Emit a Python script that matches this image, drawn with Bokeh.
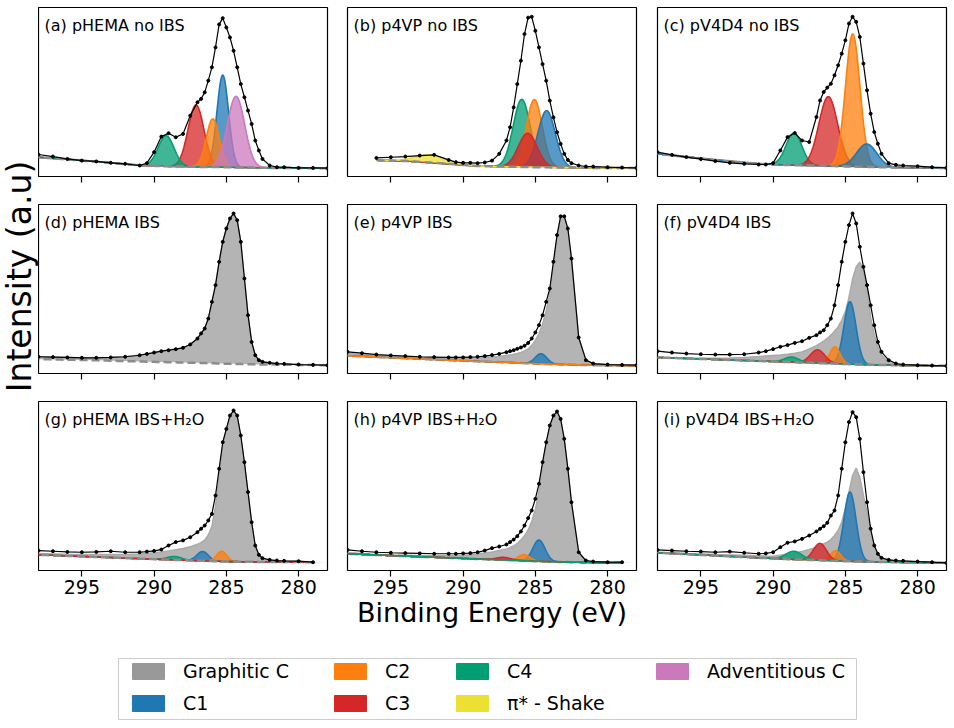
import numpy as np
from bokeh.plotting import figure
from bokeh.models import Range1d, FixedTicker, Label, Legend, LegendItem
from bokeh.layouts import column, row
from bokeh.embed import file_html
from bokeh.resources import INLINE

FONT = "DejaVu Sans"

# ---------------- data ----------------
# binding-energy grid (eV) on which the measured spectra were read
E_GRID = [298, 297, 296, 295, 294, 293, 292, 291, 290.5, 290, 289.5, 289, 288.5, 288,
          287.5, 287, 286.75, 286.5, 286.25, 286, 285.75, 285.5, 285.25, 285, 284.75,
          284.5, 284.25, 284, 283.75, 283.5, 283.25, 283, 282.75, 282.5, 282, 281.5,
          281, 280, 279, 278]
# knots of the (Shirley-like) background
BG_KNOTS = [298, 294, 291, 289, 287, 285, 283, 281, 278]

DATA_A = [.130, .118, .104, .094, .089, .081, .075, .065, .079, .144, .236, .256, .232, .252,
          .360, .439, .459, .498, .567, .646, .764, .900, .937, .882, .823, .744, .646, .547,
          .469, .390, .311, .213, .154, .104, .065, .055, .055, .051, .051, .049]
DATA_B = [None, None, .110, .114, .118, .124, .128, .098, .085, .081, .081, .079, .083, .094,
          .134, .213, .291, .409, .547, .685, .843, .940, .945, .862, .764, .665, .567, .449,
          .350, .262, .193, .134, .098, .079, .065, .059, .059, .055, .053, .051]
DATA_C = [.144, .128, .115, .103, .091, .081, .075, .071, .071, .079, .154, .233, .257, .213,
          .204, .352, .450, .500, .526, .549, .599, .658, .727, .806, .905, .945, .915, .826,
          .668, .510, .372, .263, .194, .134, .079, .069, .065, .061, .055, .051]
DATA_D = [.099, .097, .095, .093, .093, .095, .099, .108, .116, .124, .132, .138, .144, .152,
          .172, .207, .237, .266, .325, .424, .523, .661, .779, .858, .917, .947, .907, .779,
          .562, .345, .187, .108, .079, .069, .063, .059, .057, .053, .051, .049]
DATA_E = [.128, .120, .112, .107, .103, .099, .097, .095, .095, .095, .097, .099, .103, .109,
          .116, .126, .132, .138, .146, .154, .164, .181, .207, .243, .286, .345, .424, .503,
          .661, .819, .930, .930, .858, .680, .213, .079, .059, .053, .051, .049]
DATA_F = [.132, .124, .118, .114, .112, .112, .114, .124, .132, .144, .158, .168, .181, .191,
          .211, .227, .243, .256, .286, .325, .404, .523, .661, .779, .878, .947, .888, .750,
          .631, .523, .404, .286, .187, .128, .079, .059, .053, .049, .047, .045]
DATA_G = [.118, .114, .110, .108, .110, .114, .108, .108, .112, .116, .124, .148, .168, .178,
          .197, .227, .247, .266, .296, .335, .444, .602, .759, .838, .917, .947, .917, .799,
          .641, .464, .286, .148, .093, .073, .063, .059, .057, .055, .049, None]
DATA_H = [.122, .114, .108, .105, .103, .101, .099, .099, .099, .101, .103, .108, .118, .132,
          .142, .154, .168, .183, .203, .231, .266, .310, .355, .424, .513, .641, .759, .858,
          .917, .941, .897, .779, .602, .404, .108, .059, .053, .049, .049, None]
DATA_I = [.122, .118, .114, .112, .108, .112, .105, .099, .101, .108, .138, .164, .172, .187,
          .207, .231, .247, .262, .282, .325, .355, .444, .602, .759, .878, .937, .907, .779,
          .582, .404, .247, .148, .099, .075, .063, .059, .057, .053, .049, .045]

# graphitic-C envelope (upper edge of the grey area)
GRAPHITIC_D = DATA_D
GRAPHITIC_E = [.118, .112, .106, .101, .097, .094, .092, .090, .090, .090, .091, .092, .094, .097,
               .101, .106, .110, .114, .119, .125, .133, .145, .165, .195, .235, .290, .370, .470,
               .640, .810, .925, .930, .850, .680, .210, .079, .059, .053, .051, .049]
GRAPHITIC_F = [.095, .093, .091, .090, .090, .092, .095, .100, .103, .106, .109, .114, .120, .128,
               .145, .165, .178, .192, .208, .227, .250, .276, .315, .365, .450, .560, .630, .660,
               .610, .500, .330, .230, .160, .110, .065, .055, .052, .049, .047, .045]
GRAPHITIC_G = [.100, .098, .096, .095, .094, .094, .095, .098, .100, .105, .110, .116, .123, .130,
               .140, .155, .165, .180, .210, .260, .380, .560, .740, .830, .910, .940, .910, .790,
               .630, .455, .280, .140, .088, .070, .060, .057, .055, .053, .048, None]
GRAPHITIC_H = [.105, .100, .095, .092, .090, .088, .087, .087, .088, .090, .093, .097, .103, .110,
               .118, .128, .135, .145, .160, .180, .205, .240, .290, .360, .470, .620, .750, .850,
               .910, .935, .890, .775, .600, .400, .105, .058, .052, .048, .048, None]
GRAPHITIC_I = [.108, .104, .100, .097, .094, .092, .090, .088, .086, .085, .091, .097, .105, .112,
               .124, .138, .148, .158, .168, .183, .207, .237, .286, .365, .463, .562, .606, .552,
               .444, .345, .227, .148, .089, .069, .060, .057, .055, .052, .049, .045]

BG_A = [.114, .088, .066, .060, .057, .055, .052, .050, .049]
BG_B = [.100, .092, .075, .062, .058, .055, .053, .051, .050]
BG_C = [.134, .098, .075, .068, .064, .060, .056, .053, .050]
BG_D = [.085, .078, .071, .067, .063, .058, .054, .052, .049]
BG_E = [.105, .090, .079, .072, .066, .058, .053, .049, .045]
BG_F = [.095, .083, .074, .068, .062, .056, .051, .048, .045]
BG_G = [.093, .080, .070, .064, .058, .053, .051, .050, .049]
BG_H = [.099, .085, .075, .068, .062, .055, .050, .047, .045]
BG_I = [.105, .088, .075, .067, .061, .055, .051, .048, .045]

# fitted components: (name, centre eV, height, width eV), in drawing order
PEAKS_A = [("C1", 285.25, .545, .40), ("C3", 287.10, .366, .55), ("C2", 285.94, .285, .45),
           ("ADV", 284.33, .420, .60), ("C4", 289.17, .181, .55)]
PEAKS_B = [("C4", 285.94, .400, .59), ("C2", 285.07, .400, .55), ("C1", 284.22, .335, .60),
           ("C3", 285.53, .200, .65), ("PI", 292.30, .045, 1.0)]
PEAKS_C = [("C4", 288.56, .190, .55), ("C3", 286.18, .410, .65), ("C2", 284.49, .785, .50),
           ("C1", 283.52, .135, .70)]
PEAKS_D = []
PEAKS_E = [("C1", 284.61, .060, .40), ("C2", 285.00, 0.0, .50)]
PEAKS_F = [("C1", 284.68, .370, .42), ("C2", 285.72, .100, .35), ("C3", 286.92, .078, .50),
           ("C4", 288.72, .030, .50)]
PEAKS_G = [("C1", 286.64, .055, .40), ("C2", 285.32, .060, .35), ("C4", 288.60, .020, .50),
           ("C3", 287.50, 0.0, .50)]
PEAKS_H = [("C1", 284.75, .126, .42), ("C2", 285.78, .036, .40), ("C3", 287.20, .015, .50),
           ("C4", 288.00, 0.0, .50)]
PEAKS_I = [("C1", 284.68, .410, .42), ("C2", 285.67, .060, .35), ("C3", 286.76, .100, .45),
           ("C4", 288.56, .048, .55)]

TITLES = ["(a) pHEMA no IBS", "(b) p4VP no IBS", "(c) pV4D4 no IBS",
          "(d) pHEMA IBS", "(e) p4VP IBS", "(f) pV4D4 IBS",
          "(g) pHEMA IBS+H\u2082O", "(h) p4VP IBS+H\u2082O", "(i) pV4D4 IBS+H\u2082O"]
X_TICKS = [295, 290, 285, 280]
X_LABEL = "Binding Energy (eV)"
Y_LABEL = "Intensity (a.u)"

LEGEND_NAMES = ["Graphitic C", "C1", "C2", "C3", "C4", "\u03c0* - Shake", "Adventitious C"]
LEGEND_KEYS = ["GR", "C1", "C2", "C3", "C4", "PI", "ADV"]

# ---------------- styles ----------------
COLORS = {"GR": "#949494", "C1": "#1f77b4", "C2": "#ff7f0e", "C3": "#d62728",
          "C4": "#029e73", "PI": "#ece133", "ADV": "#cc78bc"}
LEGEND_COLORS = {"GR": "#999999", "C1": "#1f77b4", "C2": "#ff7f0e", "C3": "#d62728",
                 "C4": "#029e73", "PI": "#ece133", "ADV": "#cc78bc"}

PANELS = [
    (DATA_A, None, BG_A, PEAKS_A, False),
    (DATA_B, None, BG_B, PEAKS_B, False),
    (DATA_C, None, BG_C, PEAKS_C, False),
    (DATA_D, GRAPHITIC_D, BG_D, PEAKS_D, False),
    (DATA_E, GRAPHITIC_E, BG_E, PEAKS_E, True),
    (DATA_F, GRAPHITIC_F, BG_F, PEAKS_F, False),
    (DATA_G, GRAPHITIC_G, BG_G, PEAKS_G, False),
    (DATA_H, GRAPHITIC_H, BG_H, PEAKS_H, True),
    (DATA_I, GRAPHITIC_I, BG_I, PEAKS_I, False),
]

E = np.array(E_GRID, dtype=float)
KN = np.array(BG_KNOTS, dtype=float)[::-1]


def bg_at(x, bg):
    return np.interp(x, KN, np.array(bg, dtype=float)[::-1])


FRAME_W, FRAME_H = 289, 169
YLAB_W = 38
BORDER_L = [0, 10, 11]
BORDER_R = [10, 10, 4]
BORDER_T = [7, 8, 8]
BORDER_B = [20, 20, 70]
GRID_H = 640


def make_panel(i):
    data, gray, bg, peaks, bg_first = PANELS[i]
    c, r = i % 3, i // 3
    p = figure(frame_width=FRAME_W, frame_height=FRAME_H,
               x_range=Range1d(298, 278), y_range=Range1d(0, 1),
               min_border_left=BORDER_L[c], min_border_right=BORDER_R[c],
               min_border_top=BORDER_T[r], min_border_bottom=BORDER_B[r],
               toolbar_location=None, tools="", output_backend="svg")
    p.grid.visible = False
    p.yaxis.visible = False
    p.outline_line_color = "black"
    p.outline_line_width = 1.2
    p.background_fill_color = "white"
    p.border_fill_color = "white"
    ax = p.xaxis[0]
    ax.ticker = FixedTicker(ticks=X_TICKS)
    ax.axis_line_color = None
    ax.minor_tick_line_color = None
    ax.major_tick_in = 0
    ax.major_tick_out = 6
    ax.major_tick_line_color = "black"
    ax.major_tick_line_width = 1.2
    ax.major_label_text_font = FONT
    ax.major_label_standoff = 3
    if r < 2:
        ax.major_label_text_font_size = "8px"
        ax.major_label_text_color = None
    else:
        ax.major_label_text_font_size = "19px"
        ax.major_label_text_color = "black"
    if i == 7:
        ax.axis_label = X_LABEL
        ax.axis_label_text_font = FONT
        ax.axis_label_text_font_size = "27px"
        ax.axis_label_text_font_style = "normal"
        ax.axis_label_text_color = "black"
        ax.axis_label_standoff = 0

    y = np.array(data, dtype=float)
    ok = ~np.isnan(y)
    xf = np.linspace(E[ok].min(), E[ok].max(), 600)
    bgf = bg_at(xf, bg)

    if gray is not None:
        g = np.array(gray, dtype=float)
        p.varea(x=E, y1=bg_at(E, bg), y2=g, fill_color=COLORS["GR"], fill_alpha=0.7)
        p.line(E, g, line_color="#aaaaaa", line_width=1.5)

    def draw_bg():
        p.line(xf, bgf, line_color="#8c8c8c", line_width=2.5, line_dash="8 4")

    if bg_first:
        draw_bg()
    for key, cen, h, s in peaks:
        col = COLORS[key]
        yy = bgf + h * np.exp(-0.5 * ((xf - cen) / s) ** 2)
        if h > 0:
            p.varea(x=xf, y1=bgf, y2=yy, fill_color=col, fill_alpha=0.75)
        p.line(xf, yy, line_color=col, line_width=1.6)
    if not bg_first:
        draw_bg()

    p.line(E, y, line_color="black", line_width=1.2)
    p.scatter(E, y, size=3, color="black")

    p.add_layout(Label(x=6, y=FRAME_H - 18, x_units="screen", y_units="screen",
                       text=TITLES[i], text_font=FONT, text_font_size="16px",
                       text_color="black", text_baseline="alphabetic"))
    return p


panels = [make_panel(i) for i in range(9)]

# ---------------- shared y label ----------------
yl = figure(width=YLAB_W, height=GRID_H, x_range=Range1d(0, YLAB_W), y_range=Range1d(0, GRID_H),
            min_border=0, toolbar_location=None, tools="", output_backend="svg")
yl.axis.visible = False
yl.grid.visible = False
yl.outline_line_color = None
yl.background_fill_color = "white"
yl.border_fill_color = "white"
yl.add_layout(Label(x=19, y=GRID_H - 276, x_units="screen", y_units="screen",
                    text=Y_LABEL, angle=np.pi / 2, text_font=FONT,
                    text_font_size="33px", text_color="black",
                    text_align="center", text_baseline="middle"))

# ---------------- legend ----------------
LW, LH = YLAB_W + 299 + 309 + 304, 82
lf = figure(width=LW, height=LH, x_range=Range1d(0, LW), y_range=Range1d(0, LH),
            min_border=0, toolbar_location=None, tools="", output_backend="svg")
lf.axis.visible = False
lf.grid.visible = False
lf.outline_line_color = None
lf.background_fill_color = "white"
lf.border_fill_color = "white"
lf.quad(left=[118], right=[856], bottom=[3], top=[64], fill_color="white",
        line_color="#cccccc", line_width=1)

rends = {}
for key in LEGEND_KEYS:
    # legend-only renderers, kept outside the visible range
    rends[key] = lf.quad(left=[-30], right=[-20], bottom=[-30], top=[-20],
                         fill_color=LEGEND_COLORS[key], line_color=LEGEND_COLORS[key])

LEGEND_COLS = [[0, 1], [2, 3], [4, 5], [6]]
COL_X = [128, 330, 452, 652]
for ci, idxs in enumerate(LEGEND_COLS):
    items = [LegendItem(label=LEGEND_NAMES[k], renderers=[rends[LEGEND_KEYS[k]]]) for k in idxs]
    y0 = 8 if len(idxs) == 2 else 40
    leg = Legend(items=items, location=(COL_X[ci], y0), orientation="vertical",
                 padding=0, margin=0, spacing=10, glyph_width=40, glyph_height=20,
                 label_standoff=15, label_height=22, label_text_font=FONT,
                 label_text_font_size="19px", label_text_color="black",
                 label_text_baseline="middle",
                 border_line_color=None, background_fill_alpha=0)
    lf.add_layout(leg)

grid = column(row(*panels[0:3]), row(*panels[3:6]), row(*panels[6:9]))
layout = column(row(yl, grid), lf)

open("out.html", "w").write(file_html(layout, INLINE))
